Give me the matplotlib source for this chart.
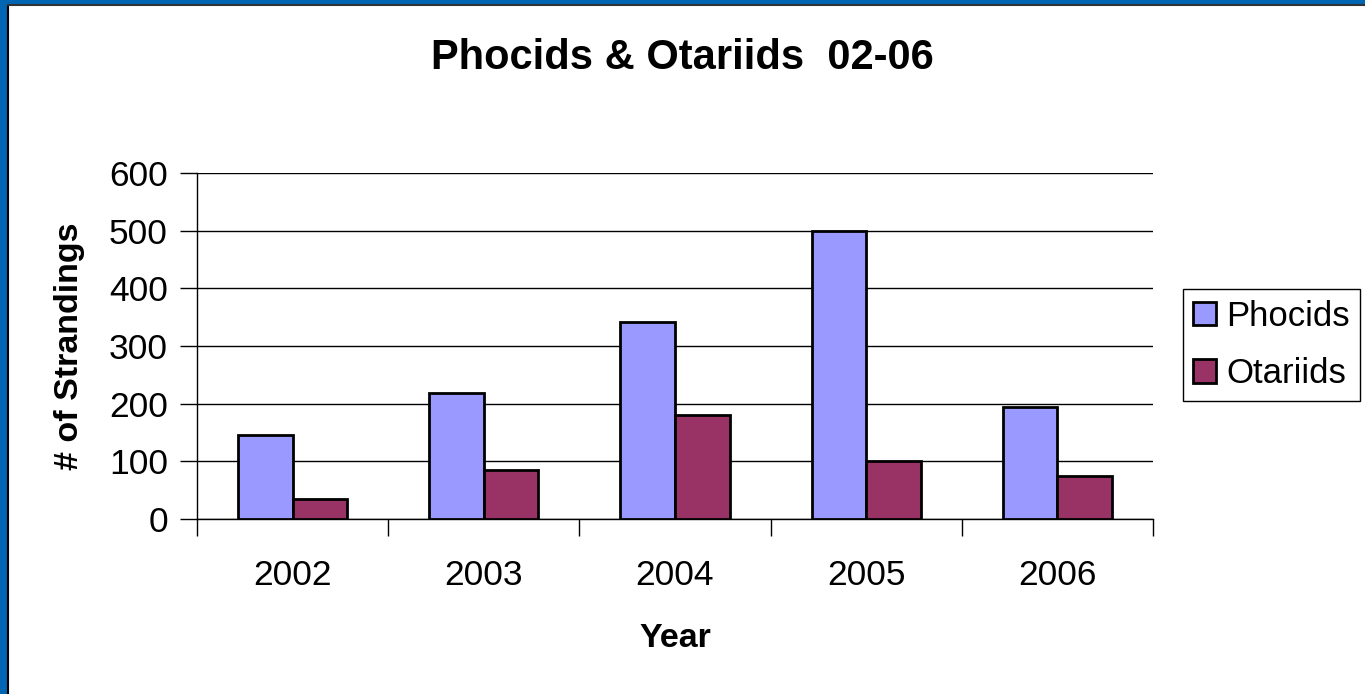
import numpy as np
import matplotlib.pyplot as plt
from matplotlib.patches import Rectangle

years = ["2002", "2003", "2004", "2005", "2006"]
phocids = [145, 219, 342, 500, 194]
otariids = [35, 85, 180, 100, 75]

plt.rcParams['font.family'] = ['Liberation Sans', 'DejaVu Sans']

fig = plt.figure(figsize=(13.65, 6.94), dpi=100)
# blue slide frame on top and left
fig.patches.append(Rectangle((0, 0), 7 / 1365, 1, transform=fig.transFigure, color="#0066B3", zorder=0))
fig.patches.append(Rectangle((0, 1 - 4 / 694), 1, 4 / 694, transform=fig.transFigure, color="#0066B3", zorder=0))
fig.lines.append(plt.Line2D([7.5 / 1365, 7.5 / 1365], [0, 1 - 4.5 / 694], transform=fig.transFigure, color="black", lw=1.5))
fig.lines.append(plt.Line2D([7.5 / 1365, 1], [1 - 4.5 / 694, 1 - 4.5 / 694], transform=fig.transFigure, color="#333333", lw=1.5))

ax = fig.add_axes([197 / 1365, 175 / 694, 956 / 1365, 346 / 694])
x = np.arange(len(years))
w = 1 / 3.5
ax.bar(x - w / 2, phocids, w, color="#9999FF", edgecolor="black", linewidth=2, label="Phocids", zorder=3)
ax.bar(x + w / 2, otariids, w, color="#993366", edgecolor="black", linewidth=2, label="Otariids", zorder=3)

ax.set_xlim(-0.5, len(years) - 0.5)
ax.set_ylim(0, 600)
ax.set_yticks(range(0, 601, 100))
ax.tick_params(axis='y', labelsize=25.5, length=12, direction='out', width=1, pad=9)
ax.yaxis.grid(True, color="black", lw=1, zorder=0)
ax.set_xticks(x)
ax.set_xticklabels(years)
ax.set_xticks(np.arange(-0.5, len(years), 1), minor=True)
ax.tick_params(axis='x', which='major', length=0, labelsize=25.5, pad=29)
ax.tick_params(axis='x', which='minor', length=12, width=1)
for s in ["top", "right"]:
    ax.spines[s].set_visible(False)
ax.spines["left"].set_linewidth(1)
ax.spines["bottom"].set_linewidth(1)

ax.set_xlabel("Year", fontsize=24.5, fontweight="bold", labelpad=22)
ax.set_ylabel("# of Strandings", fontsize=24.5, fontweight="bold", labelpad=17)
fig.text(0.5, 1 - 58 / 694, "Phocids & Otariids  02-06", ha="center", va="center", fontsize=30, fontweight="bold")

leg = ax.legend(loc="center left", bbox_to_anchor=(1183 / 1365, 349 / 694), bbox_transform=fig.transFigure,
                fontsize=25, fancybox=False, edgecolor="black", framealpha=1, handlelength=0.65, handleheight=0.65,
                handletextpad=0.3, borderpad=0.3, labelspacing=0.7, borderaxespad=0)
leg.get_frame().set_linewidth(1)

fig.savefig("out.png", dpi=100)
